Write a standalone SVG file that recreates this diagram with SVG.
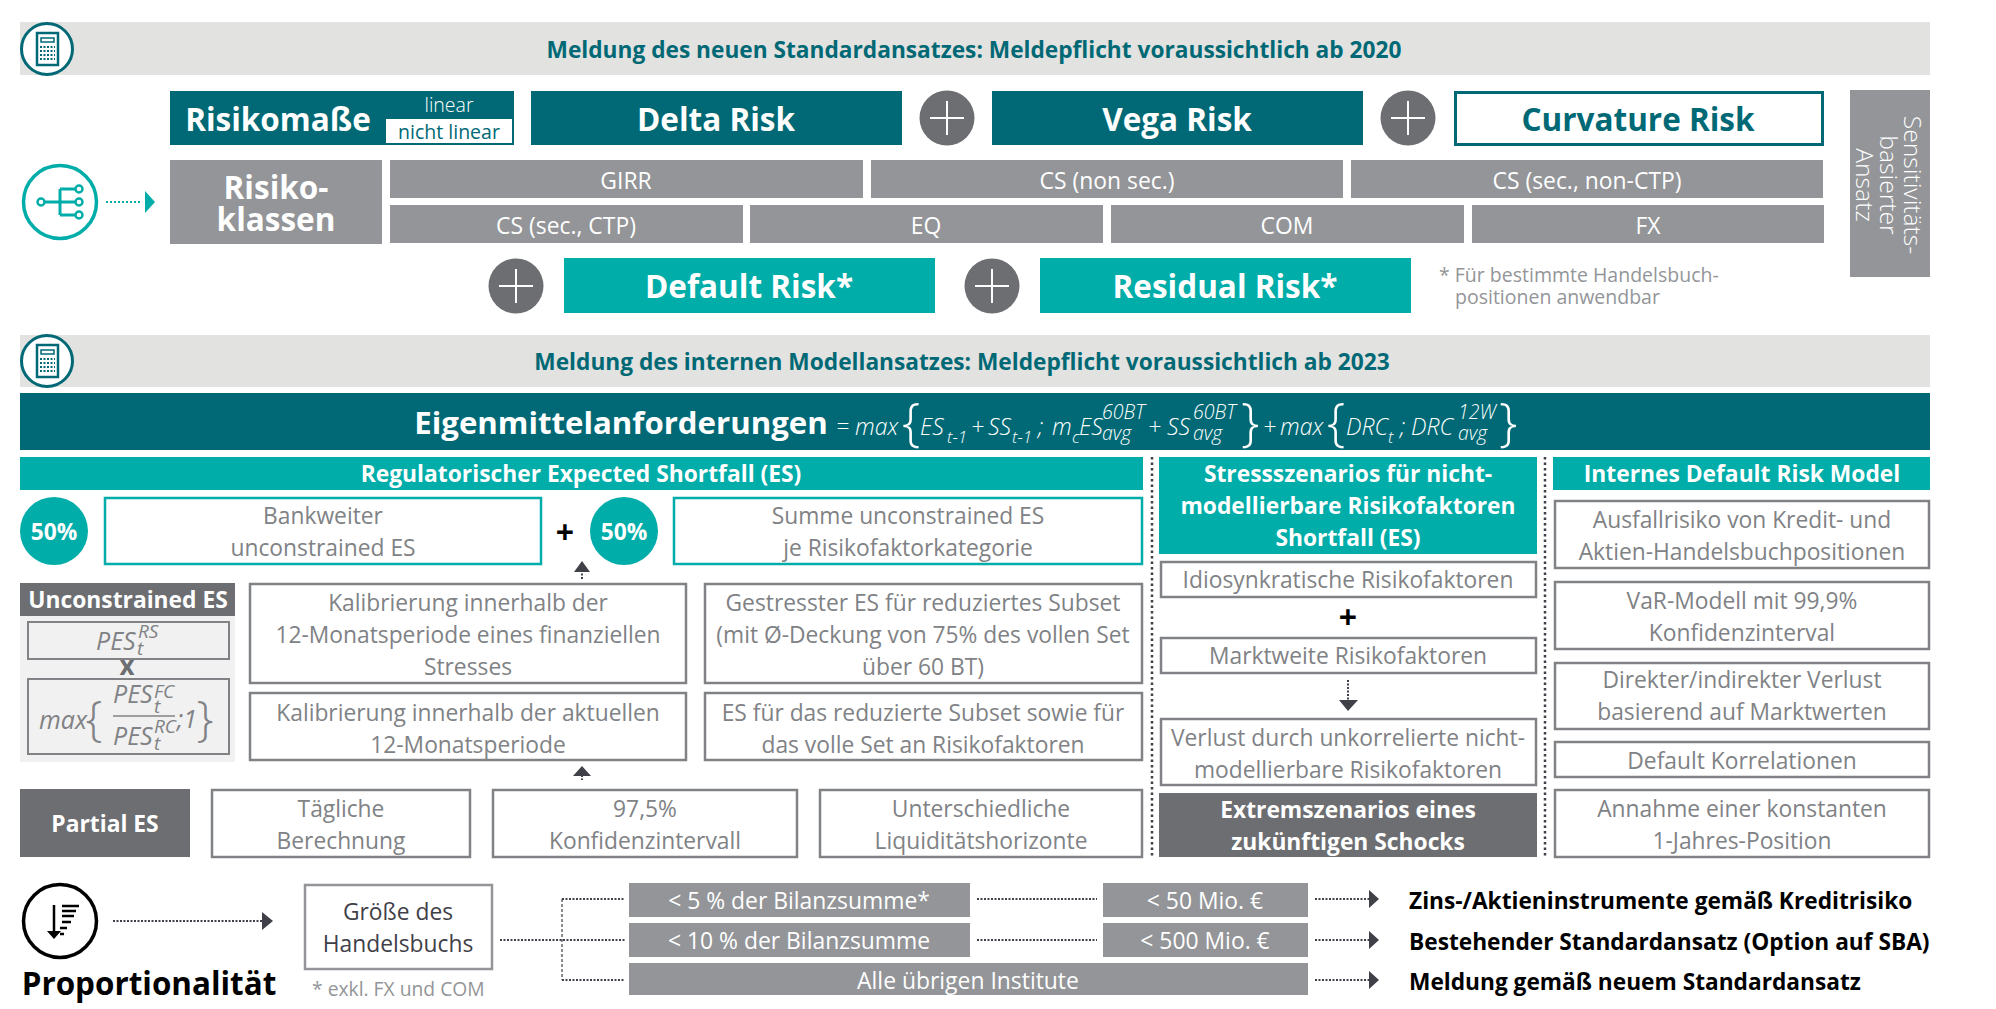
<svg xmlns="http://www.w3.org/2000/svg" width="1996" height="1009" viewBox="0 0 1996 1009">
<defs>
<style>
text{font-family:"Open Sans","Noto Sans","Liberation Sans",sans-serif;text-anchor:middle}
.hd{fill:#e2e2e0}.dk{fill:#006975}.tl{fill:#00ada9}.gy{fill:#939598}.dg{fill:#6d6e71}
.bx{fill:#fff;stroke:#808285;stroke-width:2.5}
.tb{fill:#fff;stroke:#00ada9;stroke-width:2.5}
.t{font-size:22.8px;fill:#808285;transform:translateY(1px)}
.w{font-size:22.9px;fill:#fff;transform:translateY(1px)}
.h1{font-size:22.7px;font-weight:700;fill:#006975;transform:translateY(0.5px)}
.big{font-size:31.5px;font-weight:700;fill:#fff}
.sb{font-size:22.8px;font-weight:700;fill:#fff}
.r{font-size:22.7px;font-weight:700;fill:#000;text-anchor:start;transform:translateY(1px)}
.f{font-style:italic;font-size:23px;fill:#fff;text-anchor:start;font-weight:300}
.fs{font-style:italic;font-size:17px;fill:#fff;text-anchor:start;font-weight:300}
.fu{font-style:italic;font-size:19.5px;fill:#fff;text-anchor:start;font-weight:300}
.fb{font-size:52px;fill:#fff;text-anchor:start;font-weight:300}
.g{font-style:italic;font-size:25px;fill:#808285;text-anchor:start}
.gs{font-style:italic;font-size:19px;fill:#808285;text-anchor:start}
.gb{font-size:48px;fill:#808285;font-weight:300}
.dot{fill:none;stroke:#3f4048;stroke-width:2;stroke-dasharray:2 1.5}
.thin{fill:none;stroke:#3f4048;stroke-width:1.2;stroke-dasharray:3 2}
.plus{stroke:#fff;stroke-width:2}
.vs{font-size:24.7px;font-weight:300;fill:#fff}
</style>
<g id="calc">
<circle cx="47" cy="49" r="25.5" fill="#fff" stroke="#006975" stroke-width="3"/>
<rect x="37" y="33" width="21" height="32" fill="none" stroke="#006975" stroke-width="2.5"/>
<rect x="41" y="38" width="13" height="4" fill="none" stroke="#006975" stroke-width="1.5"/>
<path d="M40 47H55M40 51H55M40 55H55M40 59H55" stroke="#006975" stroke-width="2" stroke-dasharray="2 1.5" fill="none"/>
</g>
<g id="pl">
<circle r="27.5" fill="#6d6e71"/><path class="plus" d="M-17 0H17M0 -17V17"/>
</g>
</defs>

<g id="connectors">
<path d="M106 202H142" fill="none" stroke="#00ada9" stroke-width="2" stroke-dasharray="2 2"/>
<path d="M145 191L155 202L145 213Z" fill="#00ada9"/>
<path class="dot" d="M113 921H263"/><path d="M262 912L273 921L262 930Z" fill="#3f4048"/>
<path class="dot" d="M500 940H625M562 899H625M562 980H625"/>
<path class="thin" d="M562 899V980"/>
<path class="dot" d="M977 899H1097M977 940H1097"/>
<path class="dot" d="M1315 899H1369M1315 940H1369M1315 980H1369"/>
<path d="M1369 890L1379 899L1369 908ZM1369 931L1379 940L1369 949ZM1369 971L1379 980L1369 989Z" fill="#3f4048"/>
<path d="M1152 457V857M1545 457V857" fill="none" stroke="#3f4048" stroke-width="2.5" stroke-dasharray="2.5 3"/>
<path class="dot" d="M582 570V580M582 768V780M1348 680V700"/>
<path d="M574 572L582 561L590 572ZM573 776L582 766L591 776ZM1339 700H1358L1348 711Z" fill="#3f4048"/>
</g>

<g id="header1"><rect class="hd" x="20" y="22" width="1910" height="53"/><use href="#calc"/><text class="h1" x="974" y="57">Meldung des neuen Standardansatzes: Meldepflicht voraussichtlich ab 2020</text></g>
<g id="risikomasse"><rect class="dk" x="170" y="91" width="344" height="54"/><text class="big" x="278" y="131">Risikomaße</text><text x="449" y="112" style="font-size:19.5px;fill:#fff;font-weight:300">linear</text><rect x="386" y="119" width="126" height="24" fill="#fff"/><text x="449" y="139" style="font-size:19.5px;fill:#006975">nicht linear</text></g>
<g id="delta"><rect class="dk" x="531" y="91" width="371" height="54"/><text class="big" x="716" y="131">Delta Risk</text></g>
<use href="#pl" x="947" y="118"/>
<g id="vega"><rect class="dk" x="992" y="91" width="371" height="54"/><text class="big" x="1177" y="131">Vega Risk</text></g>
<use href="#pl" x="1408" y="118"/>
<g id="curvature"><rect x="1455.500" y="92.500" width="367" height="52" fill="#fff" stroke="#006975" stroke-width="3"/><text class="big" x="1638" y="131" style="fill:#006975">Curvature Risk</text></g>
<g id="sens"><rect class="gy" x="1850" y="90" width="80" height="187"/><text class="vs" transform="translate(1904 185) rotate(90)">Sensitivitäts-</text><text class="vs" transform="translate(1880 185) rotate(90)">basierter</text><text class="vs" transform="translate(1856 185) rotate(90)">Ansatz</text></g>

<g id="branchicon"><circle cx="60" cy="202" r="36.500" fill="#fff" stroke="#00ada9" stroke-width="3.500"/><path d="M43 202H79M60 189V215M60 189H79M60 215H79" fill="none" stroke="#00ada9" stroke-width="3"/><circle cx="41" cy="202" r="3.500" fill="#fff" stroke="#00ada9" stroke-width="2.500"/><circle cx="79" cy="189" r="3.500" fill="#fff" stroke="#00ada9" stroke-width="2.500"/><circle cx="79" cy="202" r="3.500" fill="#fff" stroke="#00ada9" stroke-width="2.500"/><circle cx="79" cy="215" r="3.500" fill="#fff" stroke="#00ada9" stroke-width="2.500"/></g>
<g id="klassen"><rect class="gy" x="170" y="160" width="212" height="84"/><text class="big" x="276" y="199">Risiko-</text><text class="big" x="276" y="231">klassen</text></g>
<g id="girr"><rect class="gy" x="390" y="160" width="473" height="38"/><text class="w" x="626" y="188">GIRR</text></g>
<g id="csn"><rect class="gy" x="871" y="160" width="472" height="38"/><text class="w" x="1107" y="188">CS (non sec.)</text></g>
<g id="css"><rect class="gy" x="1351" y="160" width="472" height="38"/><text class="w" x="1587" y="188">CS (sec., non-CTP)</text></g>
<g id="csc"><rect class="gy" x="390" y="205" width="353" height="38"/><text class="w" x="566" y="233">CS (sec., CTP)</text></g>
<g id="eq"><rect class="gy" x="750" y="205" width="353" height="38"/><text class="w" x="926" y="233">EQ</text></g>
<g id="com"><rect class="gy" x="1111" y="205" width="353" height="38"/><text class="w" x="1287" y="233">COM</text></g>
<g id="fx"><rect class="gy" x="1472" y="205" width="352" height="38"/><text class="w" x="1648" y="233">FX</text></g>
<use href="#pl" x="516" y="286"/>
<g id="default"><rect class="tl" x="564" y="258" width="371" height="55"/><text class="big" x="749" y="298">Default Risk*</text></g>
<use href="#pl" x="992" y="286"/>
<g id="residual"><rect class="tl" x="1040" y="258" width="371" height="55"/><text class="big" x="1225" y="298">Residual Risk*</text></g>
<g id="fn1"><text x="1439" y="282" style="font-size:19.500px;fill:#939598;text-anchor:start">* Für bestimmte Handelsbuch-</text><text x="1455" y="304" style="font-size:19.500px;fill:#939598;text-anchor:start">positionen anwendbar</text></g>

<g id="header2"><rect class="hd" x="20" y="335" width="1910" height="52"/><use href="#calc" y="312"/><text class="h1" x="962" y="369">Meldung des internen Modellansatzes: Meldepflicht voraussichtlich ab 2023</text></g>
<g id="eigen"><rect class="dk" x="20" y="393" width="1910" height="57"/>
<text class="big" x="621" y="434" style="font-size:31.2px">Eigenmittelanforderungen</text>
<text class="f" x="836" y="435">=</text><text class="f" x="855" y="435">max</text><text class="fb" x="902" y="440">{</text>
<text class="f" x="920" y="435">ES</text><text class="fs" x="947" y="443">t-1</text><text class="f" x="971" y="435">+</text><text class="f" x="988" y="435">SS</text><text class="fs" x="1012" y="443">t-1</text><text class="f" x="1038" y="435">;</text><text class="f" x="1052" y="435">m</text><text class="fs" x="1072" y="443">c</text><text class="f" x="1079" y="435">ES</text><text class="fu" x="1102" y="419">60BT</text><text class="fu" x="1102" y="440">avg</text><text class="f" x="1148" y="435">+</text><text class="f" x="1167" y="435">SS</text><text class="fu" x="1193" y="419">60BT</text><text class="fu" x="1193" y="440">avg</text><text class="fb" x="1241" y="440">}</text><text class="f" x="1263" y="435">+</text><text class="f" x="1280" y="435">max</text><text class="fb" x="1327" y="440">{</text><text class="f" x="1346" y="435">DRC</text><text class="fs" x="1388" y="443">t</text><text class="f" x="1400" y="435">;</text><text class="f" x="1411" y="435">DRC</text><text class="fu" x="1458" y="419">12W</text><text class="fu" x="1458" y="440">avg</text><text class="fb" x="1499" y="440">}</text></g>

<g id="reg"><rect class="tl" x="20" y="457" width="1123" height="33"/><text class="sb" x="581" y="482">Regulatorischer Expected Shortfall (ES)</text></g>
<g id="c50a"><circle class="tl" cx="54" cy="531" r="34"/><text class="sb" x="54" y="540">50%</text></g>
<g id="bank"><rect class="tb" x="105" y="498" width="436" height="66"/><text class="t" x="323" y="523">Bankweiter</text><text class="t" x="323" y="555">unconstrained ES</text></g>
<text id="plus1" x="565" y="544" style="font-size:32px;font-weight:700;fill:#000">+</text>
<g id="c50b"><circle class="tl" cx="624" cy="531" r="34"/><text class="sb" x="624" y="540">50%</text></g>
<g id="summe"><rect class="tb" x="674" y="498" width="468" height="66"/><text class="t" x="908" y="523">Summe unconstrained ES</text><text class="t" x="908" y="555">je Risikofaktorkategorie</text></g>

<g id="unc"><rect x="20" y="616" width="215" height="146" fill="#f1f1f1"/><rect class="dg" x="20" y="583" width="215" height="33"/><text class="sb" x="128" y="608">Unconstrained ES</text>
<rect x="28" y="622" width="201" height="37" fill="none" stroke="#808285" stroke-width="2"/><rect x="28" y="679" width="201" height="75" fill="none" stroke="#808285" stroke-width="2"/>
<text class="g" x="96" y="650">PES</text><text class="gs" x="138" y="638">RS</text><text class="gs" x="137" y="655">t</text>
<text x="127" y="675" style="font-size:26px;font-weight:700;fill:#6d6e71">x</text>
<text class="g" x="39" y="729">max</text><text class="gb" x="94" y="735">{</text>
<text class="g" x="113" y="703">PES</text><text class="gs" x="154" y="698">FC</text><text class="gs" x="154" y="713">t</text>
<path d="M113 716H175" stroke="#808285" stroke-width="1.500"/>
<text class="g" x="113" y="745">PES</text><text class="gs" x="154" y="733">RC</text><text class="gs" x="154" y="750">t</text>
<text class="g" x="177" y="728">;1</text><text class="gb" x="205" y="735">}</text></g>

<g id="kal1"><rect class="bx" x="250" y="584" width="436" height="99"/><text class="t" x="468" y="610">Kalibrierung innerhalb der</text><text class="t" x="468" y="642">12-Monatsperiode eines finanziellen</text><text class="t" x="468" y="674">Stresses</text></g>
<g id="kal2"><rect class="bx" x="250" y="693" width="436" height="67"/><text class="t" x="468" y="720">Kalibrierung innerhalb der aktuellen</text><text class="t" x="468" y="752">12-Monatsperiode</text></g>
<g id="ges"><rect class="bx" x="705" y="584" width="437" height="99"/><text class="t" x="923" y="610">Gestresster ES für reduziertes Subset</text><text class="t" x="923" y="642">(mit Ø-Deckung von 75% des vollen Set</text><text class="t" x="923" y="674">über 60 BT)</text></g>
<g id="es2"><rect class="bx" x="705" y="693" width="437" height="67"/><text class="t" x="923" y="720">ES für das reduzierte Subset sowie für</text><text class="t" x="923" y="752">das volle Set an Risikofaktoren</text></g>
<g id="partial"><rect class="dg" x="20" y="789" width="170" height="68"/><text class="sb" x="105" y="832">Partial ES</text></g>
<g id="tag"><rect class="bx" x="212" y="790" width="258" height="67"/><text class="t" x="341" y="816">Tägliche</text><text class="t" x="341" y="848">Berechnung</text></g>
<g id="konf"><rect class="bx" x="493" y="790" width="304" height="67"/><text class="t" x="645" y="816">97,5%</text><text class="t" x="645" y="848">Konfidenzintervall</text></g>
<g id="liq"><rect class="bx" x="820" y="790" width="322" height="67"/><text class="t" x="981" y="816">Unterschiedliche</text><text class="t" x="981" y="848">Liquiditätshorizonte</text></g>

<g id="stress"><rect class="tl" x="1159" y="457" width="378" height="97"/><text class="sb" x="1348" y="482">Stressszenarios für nicht-</text><text class="sb" x="1348" y="514">modellierbare Risikofaktoren</text><text class="sb" x="1348" y="546">Shortfall (ES)</text></g>
<g id="idio"><rect class="bx" x="1161" y="562" width="375" height="35"/><text class="t" x="1348" y="587">Idiosynkratische Risikofaktoren</text></g>
<text id="plus2" x="1348" y="629" style="font-size:32px;font-weight:700;fill:#000">+</text>
<g id="markt"><rect class="bx" x="1161" y="638" width="375" height="35"/><text class="t" x="1348" y="663">Marktweite Risikofaktoren</text></g>
<g id="verlust"><rect class="bx" x="1161" y="719" width="375" height="66"/><text class="t" x="1348" y="745">Verlust durch unkorrelierte nicht-</text><text class="t" x="1348" y="777">modellierbare Risikofaktoren</text></g>
<g id="extrem"><rect class="dg" x="1159" y="793" width="378" height="64"/><text class="sb" x="1348" y="818">Extremszenarios eines</text><text class="sb" x="1348" y="850">zukünftigen Schocks</text></g>

<g id="idrm"><rect class="tl" x="1553" y="457" width="377" height="33"/><text class="sb" x="1742" y="482">Internes Default Risk Model</text></g>
<g id="ausfall"><rect class="bx" x="1555" y="501" width="374" height="67"/><text class="t" x="1742" y="527">Ausfallrisiko von Kredit- und</text><text class="t" x="1742" y="559">Aktien-Handelsbuchpositionen</text></g>
<g id="var"><rect class="bx" x="1555" y="582" width="374" height="67"/><text class="t" x="1742" y="608">VaR-Modell mit 99,9%</text><text class="t" x="1742" y="640">Konfidenzinterval</text></g>
<g id="dir"><rect class="bx" x="1555" y="663" width="374" height="66"/><text class="t" x="1742" y="687">Direkter/indirekter Verlust</text><text class="t" x="1742" y="719">basierend auf Marktwerten</text></g>
<g id="korr"><rect class="bx" x="1555" y="742" width="374" height="35"/><text class="t" x="1742" y="768">Default Korrelationen</text></g>
<g id="annahme"><rect class="bx" x="1555" y="790" width="374" height="67"/><text class="t" x="1742" y="816">Annahme einer konstanten</text><text class="t" x="1742" y="848">1-Jahres-Position</text></g>

<g id="prop"><circle cx="60" cy="921" r="36.500" fill="#fff" stroke="#000" stroke-width="3.500"/><path d="M54 905V935" stroke="#000" stroke-width="2.500"/><path d="M47 931L54 939L61 931Z" fill="#000"/><path d="M62 906H79M62 911H76M62 916H74M62 922H71M60 928H67M60 934H64" stroke="#000" stroke-width="2.500"/><text x="149" y="995" style="font-size:31.4px;font-weight:700;fill:#000">Proportionalität</text></g>
<g id="groesse"><rect x="305" y="885" width="187" height="84" fill="#fff" stroke="#939598" stroke-width="2.500"/><text x="398" y="920" style="font-size:22.800px;fill:#3f4048">Größe des</text><text x="398" y="952" style="font-size:22.800px;fill:#3f4048">Handelsbuchs</text></g>
<text id="fn2" x="312" y="996" style="font-size:19.300px;fill:#939598;text-anchor:start">* exkl. FX und COM</text>
<g id="b5"><rect class="gy" x="629" y="883" width="341" height="34"/><text class="w" x="799" y="908">&lt; 5 % der Bilanzsumme*</text></g>
<g id="m50"><rect class="gy" x="1103" y="883" width="205" height="34"/><text class="w" x="1205" y="908">&lt; 50 Mio. €</text></g>
<g id="b10"><rect class="gy" x="629" y="923" width="341" height="34"/><text class="w" x="799" y="948">&lt; 10 % der Bilanzsumme</text></g>
<g id="m500"><rect class="gy" x="1103" y="923" width="205" height="34"/><text class="w" x="1205" y="948">&lt; 500 Mio. €</text></g>
<g id="alle"><rect class="gy" x="629" y="963" width="679" height="32"/><text class="w" x="968" y="988">Alle übrigen Institute</text></g>
<text class="r" x="1409" y="908">Zins-/Aktieninstrumente gemäß Kreditrisiko</text>
<text class="r" x="1409" y="949">Bestehender Standardansatz (Option auf SBA)</text>
<text class="r" x="1409" y="989">Meldung gemäß neuem Standardansatz</text>
</svg>
